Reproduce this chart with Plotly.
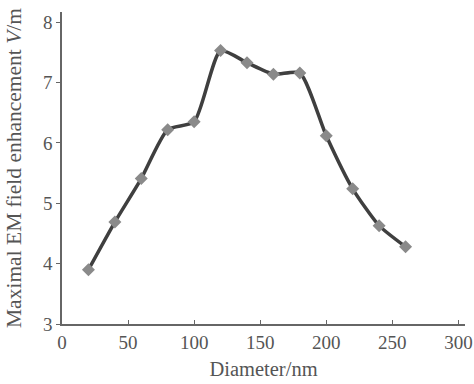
import plotly.graph_objects as go

diameter = [20, 40, 60, 80, 100, 120, 140, 160, 180, 200, 220, 240, 260]
enhancement = [3.90, 4.69, 5.41, 6.22, 6.35, 7.53, 7.33, 7.14, 7.16, 6.12, 5.24, 4.63, 4.28]
x_ticks = [0, 50, 100, 150, 200, 250, 300]
y_ticks = [3, 4, 5, 6, 7, 8]

fig = go.Figure()
fig.add_trace(go.Scatter(
    x=diameter, y=enhancement, mode="lines",
    line=dict(color="#3f3f3f", width=3.5, shape="spline", smoothing=0.6),
    showlegend=False, hoverinfo="skip"))
fig.add_trace(go.Scatter(
    x=diameter, y=enhancement, mode="markers",
    marker=dict(symbol="diamond", size=10, color="#8a8a8a"),
    showlegend=False))

fam = "Liberation Serif, DejaVu Serif, serif"
tickfont = dict(family=fam, size=19, color="#555555")
xtitlefont = dict(family=fam, size=20.5, color="#555555")
ytitlefont = dict(family=fam, size=21.5, color="#555555")
fig.update_layout(
    width=474, height=384,
    margin=dict(l=62, r=9, t=12, b=60),
    paper_bgcolor="white", plot_bgcolor="white",
    font=xtitlefont,
    xaxis=dict(range=[0, 305], tickvals=x_ticks, ticks="inside", ticklen=4,
               tickcolor="#666666", showline=True, linecolor="#666666", linewidth=1.5,
               showgrid=False, zeroline=False, automargin=False,
               title=dict(text="Diameter/nm", standoff=10, font=xtitlefont), tickfont=tickfont),
    yaxis=dict(range=[3, 8.17], tickvals=y_ticks, ticks="outside", ticklen=4,
               tickcolor="#666666", showline=True, linecolor="#666666", linewidth=1.5,
               showgrid=False, zeroline=False, automargin=False,
               title=dict(text="Maximal EM field enhancement <i>V</i>/m", standoff=15, font=ytitlefont),
               tickfont=tickfont),
)
fig.write_html("out.html", config={"displayModeBar": False},
               post_script="document.body.style.margin='0';document.body.style.overflow='hidden';")
